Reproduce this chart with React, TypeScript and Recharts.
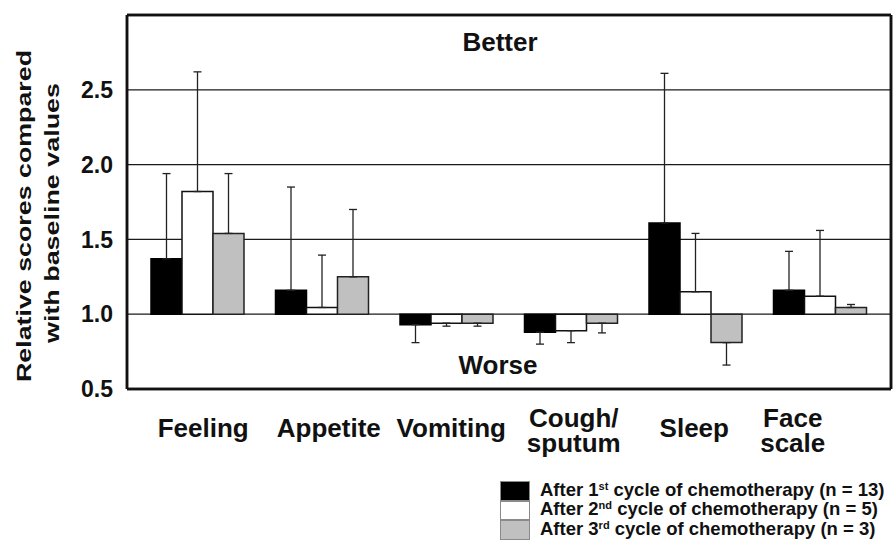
import React from 'react';
import { ComposedChart, Bar, Line, XAxis, YAxis, CartesianGrid, ErrorBar, ReferenceLine, Legend } from 'recharts';

// ---- data ----
const categories = ['Feeling', 'Appetite', 'Vomiting', 'Cough/\nsputum', 'Sleep', 'Face\nscale'];
const cycle1 = [1.37, 1.16, 0.93, 0.88, 1.61, 1.16];
const cycle1Err = [0.57, 0.69, 0.12, 0.08, 1.0, 0.26];
const cycle2 = [1.82, 1.045, 0.94, 0.89, 1.15, 1.12];
const cycle2Err = [0.8, 0.35, 0.02, 0.08, 0.39, 0.44];
const cycle3 = [1.54, 1.25, 0.94, 0.94, 0.81, 1.045];
const cycle3Err = [0.4, 0.45, 0.02, 0.065, 0.15, 0.02];
const yTicks = [0.5, 1.0, 1.5, 2.0, 2.5];
const yDomain = [0.5, 3.0];
const BASELINE = 1.0;
const legendOrdinals = ['1', '2', '3'];
const legendSuffixes = ['st', 'nd', 'rd'];
const legendN = [13, 5, 3];
const betterLevel = 2.82;
const worseLevel = 0.66;

// ---- styling ----
const FONT = '"Liberation Sans", Arial, Helvetica, sans-serif';
const colors = ['#000000', '#ffffff', '#c0c0c0'];
const strokes = ['#000000', '#111111', '#222222'];
const xTickNudge = [6, 7, 5, 3, -1, -27];
const FRAME = { stroke: '#111', strokeWidth: 2.5 };

const errPair = (v: number, e: number) => (v >= BASELINE ? [0, e] : [e, 0]);

const data = categories.map((name, i) => ({
  name,
  c1: cycle1[i] - BASELINE,
  c1e: errPair(cycle1[i], cycle1Err[i]),
  c2: cycle2[i] - BASELINE,
  c2e: errPair(cycle2[i], cycle2Err[i]),
  c3: cycle3[i] - BASELINE,
  c3e: errPair(cycle3[i], cycle3Err[i]),
}));

const XTick = (props: any) => {
  const { x, y, payload, index } = props;
  const lines = String(payload.value).split('\n');
  const cx = x + (xTickNudge[index] ?? 0);
  const first = lines.length === 1 ? 46 : 36;
  return (
    <text textAnchor="middle" fontFamily={FONT} fontWeight={700} fontSize={26} fill="#111">
      {lines.map((l, i) => (
        <tspan key={i} x={cx} y={y + first + i * 25}>
          {l}
        </tspan>
      ))}
    </text>
  );
};

const YTitle = () => (
  <g fontFamily={FONT} fontWeight={700} fontSize={21} fill="#111">
    <text transform="translate(22.5,208) rotate(-90)" textAnchor="middle" textLength={332} lengthAdjust="spacingAndGlyphs">
      Relative scores compared
    </text>
    <text transform="translate(51,205) rotate(-90)" textAnchor="middle" textLength={260} lengthAdjust="spacingAndGlyphs">
      with baseline values
    </text>
  </g>
);

const LegendBox = () => (
  <div style={{ fontFamily: FONT, fontWeight: 700, fontSize: 18.5, color: '#111', whiteSpace: 'nowrap' }}>
    {legendOrdinals.map((o, i) => (
      <div key={i} style={{ display: 'flex', alignItems: 'center', height: 19.5 }}>
        <div
          style={{
            width: 30,
            height: 19.5,
            boxSizing: 'border-box',
            background: colors[i],
            border: '1px solid #8a8a8a',
            flex: 'none',
          }}
        />
        <span style={{ marginLeft: 10, lineHeight: '19.5px' }}>
          After {o}
          <span style={{ fontSize: 11, position: 'relative', top: -6 }}>{legendSuffixes[i]}</span> cycle of
          chemotherapy (n = {legendN[i]})
        </span>
      </div>
    ))}
  </div>
);

const frameH = ({ offset }: any) => [offset.top, offset.top + offset.height];
const frameV = ({ offset }: any) => [offset.left, offset.left + offset.width];

export default function App() {
  return (
    <div style={{ padding: '8px 0 0 8px', width: 885, height: 535 }}>
      <style>{'body{margin:0}'}</style>
      <ComposedChart
        width={885}
        height={535}
        data={data}
        margin={{ top: 7, right: 1, left: 0, bottom: 74 }}
        barGap={0}
        barSize={31}
      >
        <CartesianGrid vertical={false} stroke="#1a1a1a" strokeWidth={1.3} />
        <CartesianGrid
          {...FRAME}
          fill="none"
          horizontalCoordinatesGenerator={frameH}
          verticalCoordinatesGenerator={frameV}
        />
        <XAxis
          dataKey="name"
          height={80}
          padding={{ left: 8, right: 9 }}
          tickLine={false}
          tickSize={0}
          interval={0}
          axisLine={FRAME}
          tick={<XTick />}
        />
        <YAxis
          width={119}
          domain={yDomain.map((d) => d - BASELINE)}
          allowDataOverflow
          ticks={yTicks.map((t) => t - BASELINE)}
          interval={0}
          tickFormatter={(v: number) => (v + BASELINE).toFixed(1)}
          tickLine={false}
          tickSize={0}
          tickMargin={14}
          axisLine={FRAME}
          tick={{ fontFamily: FONT, fontWeight: 700, fontSize: 23, fill: '#111' }}
          label={<YTitle />}
        />
        <YAxis
          yAxisId="r"
          orientation="right"
          width={1}
          domain={yDomain.map((d) => d - BASELINE)}
          allowDataOverflow
          tick={false}
          tickLine={false}
          axisLine={FRAME}
        />
        <ReferenceLine y={yDomain[1] - BASELINE} {...FRAME} ifOverflow="visible" />
        <ReferenceLine
          y={betterLevel - BASELINE}
          stroke="none"
          label={{ value: 'Better', position: 'center', dx: -9, fontFamily: FONT, fontWeight: 700, fontSize: 26, fill: '#111' }}
        />
        <ReferenceLine
          y={worseLevel - BASELINE}
          stroke="none"
          label={{ value: 'Worse', position: 'center', dx: -11, fontFamily: FONT, fontWeight: 700, fontSize: 26, fill: '#111' }}
        />
        <Bar dataKey="c1" fill={colors[0]} stroke={strokes[0]} strokeWidth={1.5} isAnimationActive={false}>
          <ErrorBar dataKey="c1e" width={4} stroke="#222" strokeWidth={1.3} isAnimationActive={false} />
        </Bar>
        <Bar dataKey="c2" fill={colors[1]} stroke={strokes[1]} strokeWidth={1.5} isAnimationActive={false}>
          <ErrorBar dataKey="c2e" width={4} stroke="#222" strokeWidth={1.3} isAnimationActive={false} />
        </Bar>
        <Bar dataKey="c3" fill={colors[2]} stroke={strokes[2]} strokeWidth={1.5} isAnimationActive={false}>
          <ErrorBar dataKey="c3e" width={4} stroke="#222" strokeWidth={1.3} isAnimationActive={false} />
        </Bar>
        <Line
          yAxisId="r"
          dataKey="c1"
          stroke="none"
          dot={false}
          activeDot={false}
          legendType="none"
          isAnimationActive={false}
        />
        <Legend
          layout="vertical"
          align="center"
          verticalAlign="middle"
          wrapperStyle={{ left: 492, top: 473, width: 393 }}
          content={<LegendBox />}
        />
      </ComposedChart>
    </div>
  );
}
